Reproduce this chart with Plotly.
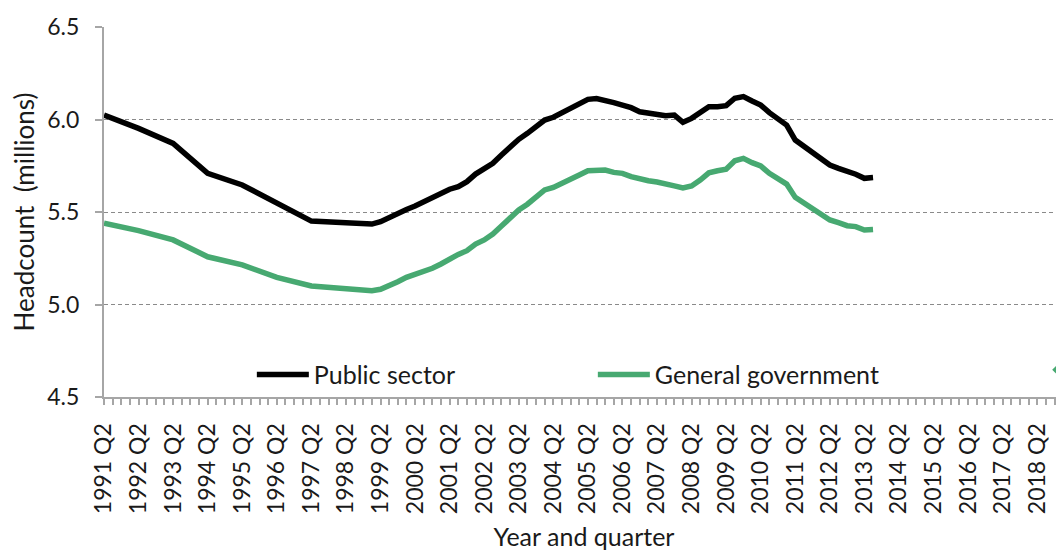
import plotly.graph_objects as go

# ---- data -------------------------------------------------------------
quarters = []
for yr in range(1991, 2020):
    for q in (1, 2, 3, 4):
        if (yr == 1991 and q < 2) or (yr == 2019 and q > 1):
            continue
        quarters.append(f"{yr} Q{q}")

tick_labels = [lab if lab.endswith("Q2") else "" for lab in quarters]

# values in millions, 1991 Q2 .. 2013 Q3 (annual points before 1999)
public_sector = [
    6.024, None, None, None, 5.952, None, None, None, 5.871, None, None, None,
    5.709, None, None, None, 5.646, None, None, None, 5.547, None, None, None,
    5.451, None, None, None, 5.442, None, None,
    5.435, 5.448, 5.471, 5.498, 5.514, 5.532, 5.556, 5.574, 5.597, 5.623,
    5.637, 5.664, 5.705, 5.731, 5.763, 5.808, 5.853, 5.893, 5.925, 5.961,
    5.997, 6.012, 6.037, 6.055, 6.082, 6.109, 6.113, 6.105, 6.091, 6.078,
    6.064, 6.042, 6.033, 6.024, 6.021, 6.024, 5.985, 6.006, 6.037, 6.069,
    6.069, 6.075, 6.115, 6.124, 6.100, 6.078, 6.037, 6.001, 5.970, 5.889,
    5.857, 5.821, 5.786, 5.754, 5.736, 5.722, 5.704, 5.682, 5.686,
]
general_government = [
    5.439, None, None, None, 5.399, None, None, None, 5.349, None, None, None,
    5.258, None, None, None, 5.214, None, None, None, 5.147, None, None, None,
    5.100, None, None, None, 5.088, None, None,
    5.075, 5.082, 5.100, 5.123, 5.147, 5.163, 5.183, 5.196, 5.219, 5.248,
    5.271, 5.291, 5.327, 5.349, 5.381, 5.424, 5.471, 5.511, 5.542, 5.583,
    5.619, 5.633, 5.658, 5.677, 5.700, 5.723, 5.727, 5.727, 5.714, 5.709,
    5.691, 5.677, 5.669, 5.662, 5.655, 5.641, 5.630, 5.641, 5.673, 5.712,
    5.723, 5.731, 5.777, 5.790, 5.767, 5.749, 5.709, 5.677, 5.651, 5.579,
    5.550, 5.520, 5.488, 5.457, 5.442, 5.426, 5.421, 5.403, 5.406,
]

y_ticks = [4.5, 5.0, 5.5, 6.0, 6.5]

FONT = "Lato"
GREEN = "#47a971"
AXIS = "#a6a6a6"
GRID = "#8a8a8a"

fig = go.Figure()
fig.add_trace(go.Scatter(
    x=quarters[:len(public_sector)], y=public_sector, name="Public sector",
    mode="lines", connectgaps=True, line=dict(color="#000000", width=5.5),
))
fig.add_trace(go.Scatter(
    x=quarters[:len(general_government)], y=general_government,
    name="General government", mode="lines", connectgaps=True,
    line=dict(color=GREEN, width=5.5),
))
fig.add_trace(go.Scatter(
    x=[quarters[0]], y=[None], name="\u00a0", mode="markers",
    marker=dict(symbol="diamond", color=GREEN, size=15),
    legend="legend2",
))

fig.update_layout(
    width=1056, height=543,
    margin=dict(l=96, r=0, t=19, b=154, autoexpand=False),
    paper_bgcolor="white", plot_bgcolor="white",
    font=dict(family=FONT, size=23, color="#1a1a1a"),
    showlegend=True,
    legend=dict(
        orientation="h", x=0.154, xanchor="left", y=0.06, yanchor="middle",
        bgcolor="rgba(0,0,0,0)", font=dict(size=25), itemwidth=52,
        entrywidth=274, entrywidthmode="pixels",
    ),
    legend2=dict(
        orientation="h", x=0.977, xanchor="left", y=0.073, yanchor="middle",
        bgcolor="rgba(0,0,0,0)", font=dict(size=25), itemwidth=30,
    ),
    xaxis=dict(
        type="category", categoryorder="array", categoryarray=quarters,
        range=[0, 111.1], tickmode="array", tickvals=quarters,
        ticktext=tick_labels, tickangle=-90, ticks="outside", ticklen=6,
        tickcolor=AXIS, tickwidth=1.5, showline=True, linecolor=AXIS,
        linewidth=2, showgrid=False, zeroline=False, ticklabelstandoff=9,
        tickfont=dict(size=23),
        title=dict(text="Year and quarter", font=dict(size=25), standoff=16),
    ),
    yaxis=dict(
        range=[4.5, 6.5], tickmode="array", tickvals=y_ticks,
        ticktext=[f"{v:.1f}" for v in y_ticks], ticks="outside", ticklen=7,
        tickcolor=AXIS, tickwidth=1.5, showline=True, linecolor=AXIS,
        linewidth=2, showgrid=True, gridcolor=GRID, gridwidth=1.3,
        griddash="4px,3px", zeroline=False, ticklabelstandoff=11,
        tickfont=dict(size=23),
        title=dict(text="Headcount\u00a0\u00a0(millions)", font=dict(size=26),
                   standoff=12),
    ),
)

fig.write_html("out.html")
